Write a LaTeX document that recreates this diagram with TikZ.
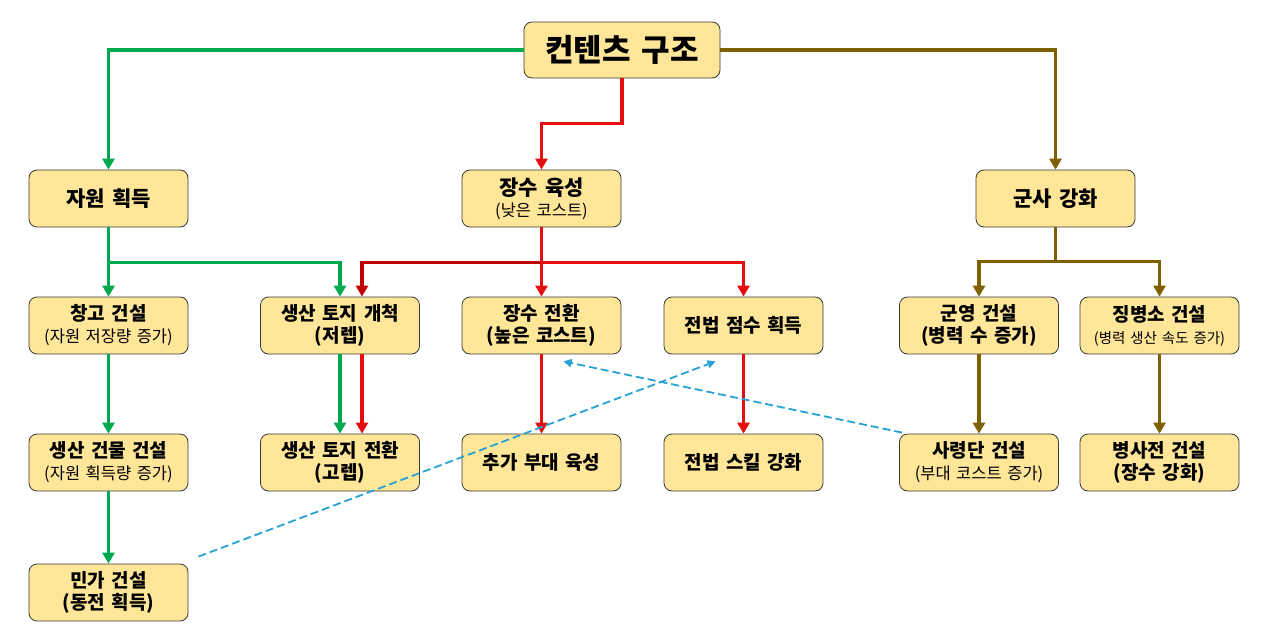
\documentclass[tikz,border=0pt]{standalone}
\usepackage{fontspec}
\setmainfont[WordSpace=1.5]{Noto Sans CJK KR}
\usetikzlibrary{arrows.meta,calc}
\definecolor{boxfill}{RGB}{255,230,153}
\definecolor{cgreen}{RGB}{0,168,80}
\definecolor{cred}{RGB}{228,14,14}
\definecolor{cdred}{RGB}{192,0,0}
\definecolor{cbrown}{RGB}{127,96,0}
\definecolor{cblue}{RGB}{38,163,212}
\tikzset{
  box/.style={draw=black!78, line width=0.8pt, fill=boxfill, rounded corners=8pt,
    minimum width=159pt, minimum height=57pt, align=center, inner sep=1pt,
    font=\bfseries\fontsize{19}{22}\selectfont},
  topbox/.style={box, font=\bfseries\fontsize{21}{22}\selectfont},
  rootbox/.style={box, minimum width=196pt, minimum height=56pt, font=\bfseries\fontsize{31}{32}\selectfont},
  conn/.style={line width=3.5pt, -{Triangle[length=11pt,width=12pt]}},
  dashconn/.style={line width=1.8pt, cblue, dash pattern=on 8pt off 4pt, -{Triangle[length=8pt,width=8pt]}},
}
\newcommand{\subt}[1]{{\mdseries\fontsize{16.5}{18}\selectfont #1}}
\newcommand{\subs}[1]{{\mdseries\fontsize{14.5}{16}\selectfont #1}}
\begin{document}
\begin{tikzpicture}[x=1pt,y=-1pt]
\useasboundingbox (0,0) rectangle (1273,639);
% nodes
\node[rootbox] (root) at (622,50) {컨텐츠 구조};
\node[topbox] (res) at (108.5,198.5) {자원 획득};
\node[topbox] (gen) at (541.5,198.5) {장수 육성\\[-1pt]\subt{(낮은 코스트)}};
\node[topbox] (mil) at (1055.5,198.5) {군사 강화};

\node[box] (store) at (108.5,325.5) {창고 건설\\\subt{(자원 저장량 증가)}};
\node[box] (land) at (340,325.5) {생산 토지 개척\\(저렙)};
\node[box] (gsw) at (541.5,325.5) {장수 전환\\(높은 코스트)};
\node[box] (tpt) at (743.5,325.5) {전법 점수 획득};
\node[box] (camp) at (979,325.5) {군영 건설\\(병력 수 증가)};
\node[box] (draft) at (1159.5,325.5) {징병소 건설\\\subs{(병력 생산 속도 증가)}};

\node[box] (prod) at (108.5,462.5) {생산 건물 건설\\\subt{(자원 획득량 증가)}};
\node[box] (landsw) at (340,462.5) {생산 토지 전환\\(고렙)};
\node[box] (extra) at (541.5,462.5) {추가 부대 육성};
\node[box] (skill) at (743.5,462.5) {전법 스킬 강화};
\node[box] (cmd) at (979,462.5) {사령단 건설\\\subt{(부대 코스트 증가)}};
\node[box] (bsj) at (1159.5,462.5) {병사전 건설\\(장수 강화)};

\node[box] (house) at (108.5,592.5) {민가 건설\\(동전 획득)};

% top level connectors
\draw[conn, cgreen] (root.west) -| (res.north);
\draw[conn, cbrown] (root.east) -| (mil.north);
\draw[conn, cred] (root.south) -- ++(0,45) -| (gen.north);

% resource branch
\draw[conn, cgreen] (res.south) -- (store.north);
\draw[conn, cgreen] (res.south) -- ++(0,35) -| (land.north);
\draw[conn, cgreen] (store.south) -- (prod.north);
\draw[conn, cgreen] (prod.south) -- (house.north);
\draw[conn, cgreen] (land.south) -- (landsw.north);

% general branch
\draw[conn, cdred] (gen.south) -- ++(0,35) -| ([xshift=22pt]land.north);
\draw[conn, cred] (gen.south) -- (gsw.north);
\draw[conn, cred] (gen.south) -- ++(0,35) -| (tpt.north);
\draw[conn, cred] ([xshift=22pt]land.south) -- ([xshift=22pt]landsw.north);
\draw[conn, cred] (gsw.south) -- (extra.north);
\draw[conn, cred] (tpt.south) -- (skill.north);

% military branch
\draw[conn, cbrown] (mil.south) -- ++(0,34) -| (camp.north);
\draw[conn, cbrown] (mil.south) -- ++(0,34) -| (draft.north);
\draw[conn, cbrown] (camp.south) -- (cmd.north);
\draw[conn, cbrown] (draft.south) -- (bsj.north);

% dashed links
\coordinate (d1s) at ($(house.north east)+(10,-7)$);
\coordinate (d1e) at ($(tpt.south)+(-28,7)$);
\coordinate (d2s) at ($(cmd.north west)+(3,-1)$);
\coordinate (d2e) at ($(gsw.south)+(22,7)$);
\draw[dashconn] (d1s) -- (d1e);
\draw[dashconn] (d2s) -- (d2e);
\end{tikzpicture}
\end{document}
